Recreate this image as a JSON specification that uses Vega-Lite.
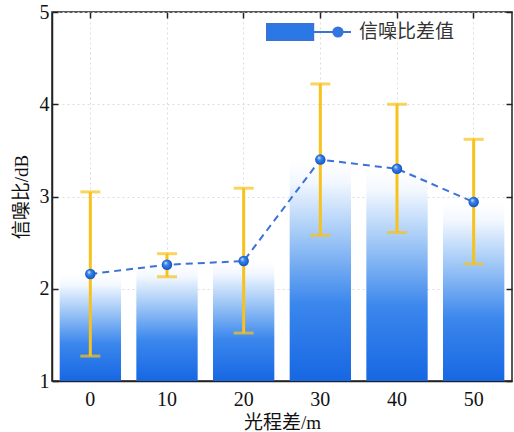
{
  "$schema": "https://vega.github.io/schema/vega-lite/v6.json",
  "autosize": "none",
  "width": 460,
  "height": 369,
  "padding": {"left": 52, "top": 12, "right": 2, "bottom": 51},
  "background": "white",
  "config": {
    "view": {"stroke": "#222", "strokeWidth": 1.5},
    "axis": {
      "labelFont": "Liberation Serif",
      "labelFontSize": 20,
      "labelColor": "#111",
      "titleFont": "Liberation Serif, Noto Sans CJK SC",
      "titleFontSize": 19,
      "titleFontWeight": "normal",
      "titleColor": "#111",
      "domainColor": "#222",
      "domainWidth": 1.5,
      "tickColor": "#222",
      "tickWidth": 1.5,
      "gridColor": "#dcdcdc",
      "gridDash": [2, 3],
      "gridWidth": 1,
      "zindex": 1
    },
    "legend": {"padding": 0}
  },
  "data": {
    "values": [
      {"x": "0", "v": 2.16, "lo": 1.27, "hi": 3.05},
      {"x": "10", "v": 2.26, "lo": 2.13, "hi": 2.38},
      {"x": "20", "v": 2.30, "lo": 1.52, "hi": 3.09},
      {"x": "30", "v": 3.40, "lo": 2.58, "hi": 4.22},
      {"x": "40", "v": 3.30, "lo": 2.61, "hi": 4.00},
      {"x": "50", "v": 2.94, "lo": 2.27, "hi": 3.62}
    ]
  },
  "resolve": {"axis": {"x": "independent", "y": "independent"}},
  "layer": [
    {
      "mark": {
        "type": "bar",
        "fill": {
          "gradient": "linear", "x1": 0, "y1": 1, "x2": 0, "y2": 0,
          "stops": [
            {"offset": 0, "color": "#1767e3"},
            {"offset": 0.35, "color": "#3b87ed"},
            {"offset": 0.65, "color": "#9fc7f6"},
            {"offset": 0.9, "color": "#f3f8ff"},
            {"offset": 1, "color": "#ffffff"}
          ]
        }
      },
      "encoding": {
        "x": {
          "field": "x", "type": "nominal", "sort": null,
          "scale": {"paddingInner": 0.2, "paddingOuter": 0.1},
          "axis": {"title": "光程差/m", "labelAngle": 0, "ticks": false, "grid": true, "labelPadding": 8, "titlePadding": 4}
        },
        "y": {
          "field": "v", "type": "quantitative",
          "scale": {"domain": [1, 5], "nice": false, "zero": false},
          "axis": {"orient": "left", "title": "信噪比/dB", "values": [1, 2, 3, 4, 5], "ticks": false, "labelPadding": 3, "grid": true, "titlePadding": 8}
        },
        "y2": {"datum": 1}
      }
    },
    {
      "mark": {"type": "rule", "color": "#f7c21b", "strokeWidth": 3},
      "encoding": {
        "x": {"field": "x", "type": "nominal", "sort": null, "axis": null},
        "y": {"field": "lo", "type": "quantitative", "axis": null},
        "y2": {"field": "hi"}
      }
    },
    {
      "mark": {"type": "tick", "color": "#f7c21b", "thickness": 3, "size": 20, "orient": "horizontal"},
      "encoding": {
        "x": {"field": "x", "type": "nominal", "sort": null, "axis": null},
        "y": {"field": "lo", "type": "quantitative",
          "axis": {"orient": "left", "labels": false, "title": null, "domain": false, "grid": false, "tickSize": -6, "values": [1, 2, 3, 4, 5]}}
      }
    },
    {
      "mark": {"type": "tick", "color": "#f7c21b", "thickness": 3, "size": 20, "orient": "horizontal"},
      "encoding": {
        "x": {"field": "x", "type": "nominal", "sort": null,
          "axis": {"orient": "top", "labels": false, "title": null, "domain": false, "grid": false, "tickSize": -6}},
        "y": {"field": "hi", "type": "quantitative",
          "axis": {"orient": "right", "labels": false, "title": null, "domain": false, "grid": false, "tickSize": -6, "values": [1, 2, 3, 4, 5]}}
      }
    },
    {
      "mark": {"type": "line", "strokeDash": [7, 5], "strokeWidth": 2},
      "encoding": {
        "x": {"field": "x", "type": "nominal", "sort": null, "axis": null},
        "y": {"field": "v", "type": "quantitative", "axis": null},
        "stroke": {
          "datum": "信噪比差值",
          "scale": {"range": ["#3a72d8"]},
          "legend": {
            "title": null,
            "orient": "none",
            "legendX": 214,
            "legendY": -23,
            "symbolType": "M-1,-0.19H0.1V0.19H-1Z M0.1,0H1 M0.58,0A0.11,0.11 0 1,0 0.8,0A0.11,0.11 0 1,0 0.58,0Z",
            "symbolSize": 7056,
            "symbolFillColor": "#2a78e6",
            "symbolStrokeWidth": 2,
            "symbolDash": [],
            "labelFont": "Noto Sans CJK SC",
            "labelFontSize": 19,
            "labelColor": "#333",
            "labelOffset": 7
          }
        }
      }
    },
    {
      "mark": {
        "type": "point", "filled": true, "size": 110, "opacity": 1,
        "fill": {
          "gradient": "radial", "x1": 0.35, "y1": 0.3, "r1": 0, "x2": 0.5, "y2": 0.5, "r2": 0.55,
          "stops": [
            {"offset": 0, "color": "#e8f2ff"},
            {"offset": 0.35, "color": "#3a86ee"},
            {"offset": 1, "color": "#0d4fb8"}
          ]
        }
      },
      "encoding": {
        "x": {"field": "x", "type": "nominal", "sort": null, "axis": null},
        "y": {"field": "v", "type": "quantitative", "axis": null}
      }
    }
  ]
}
